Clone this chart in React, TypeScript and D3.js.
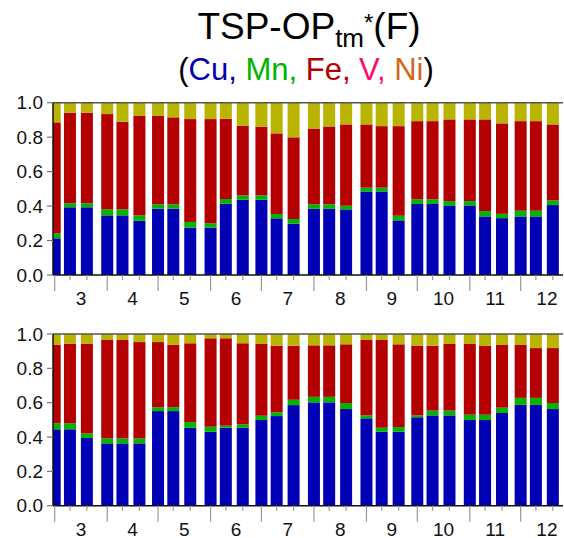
import React from "react";
import * as d3 from "d3";

// sample dates: 1st, 10th, 20th of each month, March..December
const months = [3, 4, 5, 6, 7, 8, 9, 10, 11, 12];
const sampleDays = [1, 10, 20];
const elements = ["Cu", "Mn", "Fe", "VNi"];
const colors = ["#0000b4", "#00b400", "#b40000", "#b8b400"];

const topCu = [0.213, 0.393, 0.393, 0.346, 0.346, 0.315, 0.385, 0.385, 0.275, 0.275, 0.414, 0.437, 0.437, 0.329, 0.298, 0.384, 0.384, 0.381, 0.485, 0.485, 0.317, 0.412, 0.412, 0.404, 0.404, 0.34, 0.33, 0.34, 0.34, 0.406];
const topMn = [0.029, 0.023, 0.023, 0.035, 0.035, 0.031, 0.025, 0.025, 0.033, 0.025, 0.027, 0.025, 0.025, 0.025, 0.027, 0.026, 0.026, 0.021, 0.022, 0.022, 0.027, 0.027, 0.027, 0.025, 0.025, 0.031, 0.025, 0.033, 0.033, 0.027];
const topFe = [0.644, 0.526, 0.526, 0.553, 0.509, 0.577, 0.513, 0.505, 0.597, 0.605, 0.466, 0.403, 0.399, 0.468, 0.474, 0.44, 0.452, 0.472, 0.367, 0.357, 0.52, 0.454, 0.454, 0.474, 0.474, 0.532, 0.525, 0.52, 0.52, 0.441];
const topVNi = [0.114, 0.058, 0.058, 0.066, 0.11, 0.077, 0.077, 0.085, 0.095, 0.095, 0.093, 0.135, 0.139, 0.178, 0.201, 0.15, 0.138, 0.126, 0.126, 0.136, 0.136, 0.107, 0.107, 0.097, 0.097, 0.097, 0.12, 0.107, 0.107, 0.126];

const botCu = [0.445, 0.445, 0.394, 0.363, 0.363, 0.363, 0.551, 0.551, 0.454, 0.431, 0.454, 0.454, 0.499, 0.522, 0.586, 0.602, 0.602, 0.563, 0.509, 0.431, 0.431, 0.515, 0.526, 0.526, 0.499, 0.499, 0.54, 0.587, 0.587, 0.563];
const botMn = [0.035, 0.035, 0.027, 0.029, 0.029, 0.029, 0.022, 0.022, 0.033, 0.029, 0.012, 0.02, 0.025, 0.022, 0.031, 0.032, 0.032, 0.035, 0.017, 0.023, 0.027, 0.011, 0.028, 0.028, 0.031, 0.031, 0.031, 0.041, 0.041, 0.035];
const botFe = [0.458, 0.464, 0.523, 0.573, 0.573, 0.561, 0.38, 0.365, 0.459, 0.515, 0.509, 0.472, 0.418, 0.388, 0.315, 0.3, 0.3, 0.342, 0.439, 0.511, 0.482, 0.406, 0.378, 0.388, 0.412, 0.4, 0.365, 0.308, 0.29, 0.32];
const botVNi = [0.062, 0.056, 0.056, 0.035, 0.035, 0.047, 0.047, 0.062, 0.054, 0.025, 0.025, 0.054, 0.058, 0.068, 0.068, 0.066, 0.066, 0.06, 0.035, 0.035, 0.06, 0.068, 0.068, 0.058, 0.058, 0.07, 0.064, 0.064, 0.082, 0.082];

const yTicks = [0, 0.2, 0.4, 0.6, 0.8, 1.0];

const YEAR = 2019;
const dates = months.flatMap((m) => sampleDays.map((d) => new Date(Date.UTC(YEAR, m - 1, d))));

const x = d3
  .scaleUtc()
  .domain([new Date(Date.UTC(YEAR, 1, 28)), new Date(Date.UTC(YEAR, 11, 26))])
  .range([53, 563]);

const barW = 12;
const font = "'Liberation Sans', Arial, Helvetica, sans-serif";

function Panel({ top, bottom, cu, mn, fe, vni }) {
  const y = d3.scaleLinear().domain([0, 1]).range([bottom, top]);
  const rows = dates.map((dt, i) => ({ dt, Cu: cu[i], Mn: mn[i], Fe: fe[i], VNi: vni[i] }));
  const series = d3.stack().keys(elements)(rows);
  const [x0, x1] = x.range();
  const monthStarts = months.map((m) => new Date(Date.UTC(YEAR, m - 1, 1)));

  return (
    <g>
      <defs>
        <clipPath id={`clip${Math.round(top)}`}>
          <rect x={x0} y={top} width={x1 - x0} height={bottom - top} />
        </clipPath>
      </defs>
      <g clipPath={`url(#clip${Math.round(top)})`}>
        {series.map((s, k) =>
          s.map((d, i) => (
            <rect
              key={`${k}-${i}`}
              x={x(d.data.dt) - barW / 2}
              width={barW}
              y={y(d[1])}
              height={Math.max(0, y(d[0]) - y(d[1]))}
              fill={colors[k]}
            />
          ))
        )}
      </g>
      {/* frame */}
      <line x1={x0} x2={x1} y1={top} y2={top} stroke="#555" strokeWidth={1.5} />
      <line x1={x0} x2={x0} y1={top} y2={bottom} stroke="#111" strokeWidth={1.5} />
      <line x1={x0} x2={x1} y1={bottom} y2={bottom} stroke="#111" strokeWidth={1.5} />
      {/* y axis */}
      {yTicks.map((t) => (
        <g key={t}>
          <line x1={x0 - 6} x2={x0} y1={y(t)} y2={y(t)} stroke="#777" strokeWidth={1.2} />
          <text x={x0 - 10} y={y(t) + 6.7} textAnchor="end" fontSize={19} fontFamily={font} fill="#111">
            {d3.format(".1f")(t)}
          </text>
        </g>
      ))}
      {/* x axis */}
      {monthStarts.map((m, i) => (
        <line key={i} x1={x(m)} x2={x(m)} y1={bottom} y2={bottom + 16} stroke="#999" strokeWidth={1.2} />
      ))}
      {dates
        .filter((dt) => dt.getUTCDate() !== 1)
        .map((dt, i) => (
          <line key={i} x1={x(dt)} x2={x(dt)} y1={bottom} y2={bottom + 5} stroke="#999" strokeWidth={1.2} />
        ))}
      {months.map((m) => {
        const a = Date.UTC(YEAR, m - 1, 1);
        const b = Date.UTC(YEAR, m, 1);
        return (
          <text key={m} x={x(new Date((a + b) / 2))} y={bottom + 30} textAnchor="middle" fontSize={19} fontFamily={font} fill="#111">
            {m}
          </text>
        );
      })}
    </g>
  );
}

export default function App() {
  return (
    <svg width={564} height={538} style={{ position: "absolute", left: 0, top: 0, background: "#fff" }}>
      <text x={309} y={39} textAnchor="middle" fontSize={37} fontFamily={font} fill="#000">
        TSP-OP
        <tspan fontSize={26} dy={7.5}>tm</tspan>
        <tspan fontSize={24} dy={-15.5}>*</tspan>
        <tspan dy={8}>(F)</tspan>
      </text>
      <text x={306} y={80} textAnchor="middle" fontSize={31} fontFamily={font}>
        <tspan fill="#000">(</tspan>
        <tspan fill="#0000b4">Cu, </tspan>
        <tspan fill="#00b400">Mn, </tspan>
        <tspan fill="#b40000">Fe, </tspan>
        <tspan fill="#ff0a6e">V, </tspan>
        <tspan fill="#d2691e">Ni</tspan>
        <tspan fill="#000">)</tspan>
      </text>
      <Panel top={102.7} bottom={275} cu={topCu} mn={topMn} fe={topFe} vni={topVNi} />
      <Panel top={334} bottom={505.7} cu={botCu} mn={botMn} fe={botFe} vni={botVNi} />
    </svg>
  );
}
